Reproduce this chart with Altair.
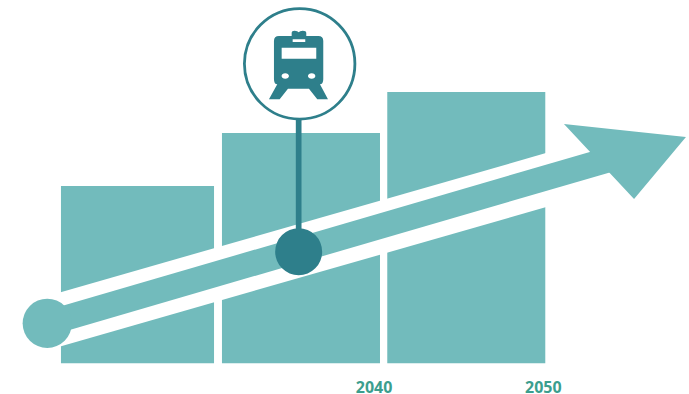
import altair as alt
import pandas as pd

# Stepped demand bars along the timeline
bar_start = [2020.70, 2030.44, 2040.44]
bar_end = [2029.96, 2040.00, 2050.00]
bar_value = [177.3, 230.3, 271.3]

# Rising arrow: halo, shaft, head and origin dot
halo_year = [2019.43, 2050.89]
halo_value = [38.13, 187.2]
shaft_year = [2019.87, 2054.52]
shaft_value = [40.0, 207.0]
head_year = [2051.13, 2055.37, 2058.51]
head_upper = [239.3, 231.8, 226.3]
head_lower = [239.3, 164.3, 226.3]

# Milestone pin carrying the rail icon
pin_year = 2035.08
pin_base_value = 111.6
pin_top_value = 244.3
badge_year = 2035.14
badge_value = 299.5
icon_value = 303.3

tick_labels = ["2040", "2050"]
tick_label_year = [2039.64, 2049.88]
tick_label_value = [-24.3, -24.3]

TEAL = "#72BBBC"
DARK = "#2E7F8B"
LABEL = "#3B9E8E"

# Train silhouette and its cut-outs, in pixels around the icon centre
TRAIN = (
    "M-19.7,-24H-7V-27Q-7,-29.3 -4,-29.3Q-1,-29.3 0,-27.8Q1,-29.3 4,-29.3"
    "Q7.6,-29.3 7.6,-27V-24H19.6Q24.6,-24 24.6,-19V19.3Q24.6,24.3 21.3,24.3"
    "L29.3,39.3H18.6L10.3,28.7H-10.7L-19,39.3H-29.7L-21.4,24.3"
    "Q-24.7,24.3 -24.7,19V-19Q-24.7,-24 -19.7,-24Z"
)
TRAIN_HOLES = (
    "M-6,-20.7H6.6V-18H-6Z M-17,-12.3H17.6V-1.3H-17Z "
    "M-17.1,16A3.7,2.7 0 1 0 -9.7,16A3.7,2.7 0 1 0 -17.1,16Z "
    "M9.3,16A3.7,2.7 0 1 0 16.7,16A3.7,2.7 0 1 0 9.3,16Z"
)

x_scale = alt.Scale(domain=[2017.012, 2058.694], nice=False, zero=False)
y_scale = alt.Scale(domain=[-30.7, 363.3], nice=False, zero=False)
X = alt.X("year:Q", scale=x_scale, axis=None)
Y = alt.Y("value:Q", scale=y_scale, axis=None)


def dot(year, value, size, **style):
    data = pd.DataFrame({"year": [year], "value": [value]})
    return alt.Chart(data).mark_point(size=size, opacity=1, **style).encode(x=X, y=Y)


def segment(years, values, width, color):
    data = pd.DataFrame(
        {"year": [years[0]], "value": [values[0]], "year2": [years[1]], "value2": [values[1]]}
    )
    return (
        alt.Chart(data)
        .mark_rule(color=color, strokeWidth=width)
        .encode(x=X, y=Y, x2="year2:Q", y2="value2:Q")
    )


bars = (
    alt.Chart(pd.DataFrame({"year": bar_start, "year2": bar_end, "value": bar_value, "base": [0, 0, 0]}))
    .mark_rect(color=TEAL)
    .encode(x=X, x2="year2:Q", y=Y, y2="base:Q")
)

halo = segment(halo_year, halo_value, 52, "#FFFFFF")
shaft = segment(shaft_year, shaft_value, 25.2, TEAL)

head = (
    alt.Chart(pd.DataFrame({"year": head_year, "value": head_upper, "lower": head_lower}))
    .mark_area(color=TEAL, opacity=1)
    .encode(x=X, y=Y, y2="lower:Q")
)

origin = dot(2019.87, 40.0, 2421, shape="circle", filled=True, color=TEAL)
stem = segment([pin_year, pin_year], [pin_base_value, pin_top_value], 5.7, DARK)
pin_base = dot(pin_year, pin_base_value, 2209, shape="circle", filled=True, color=DARK)
badge = dot(
    badge_year, badge_value, 12210, shape="circle", filled=True,
    fill="#FFFFFF", stroke=DARK, strokeWidth=2.8,
)
train = dot(pin_year, icon_value, 4, shape=TRAIN, filled=True, color=DARK)
train_holes = dot(pin_year, icon_value, 4, shape=TRAIN_HOLES, filled=True, color="#FFFFFF")

labels = (
    alt.Chart(pd.DataFrame({"year": tick_label_year, "value": tick_label_value, "label": tick_labels}))
    .mark_text(font="Open Sans", fontSize=16, fontWeight="bold", color=LABEL, align="center", baseline="middle")
    .encode(x=X, y=Y, text="label:N")
)

chart = (
    alt.layer(bars, halo, shaft, head, origin, stem, pin_base, badge, train, train_holes, labels)
    .properties(width=689, height=394, padding=0, autosize=alt.AutoSizeParams(type="none"))
    .configure_view(stroke=None)
)

chart.save("out.html", embed_options={"renderer": "svg", "actions": False})
